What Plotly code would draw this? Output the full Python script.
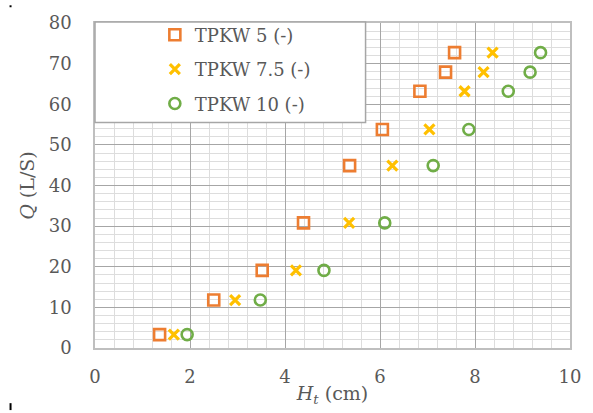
import plotly.graph_objects as go

# ---- data ----
q_values = [3.3, 11.8, 19.1, 30.8, 44.9, 53.8, 63.2, 67.9, 72.7]
ht_tpkw5 = [1.36, 2.50, 3.52, 4.39, 5.36, 6.05, 6.84, 7.38, 7.57]
ht_tpkw75 = [1.66, 2.95, 4.23, 5.35, 6.26, 7.04, 7.78, 8.18, 8.37]
ht_tpkw10 = [1.94, 3.48, 4.82, 6.10, 7.12, 7.87, 8.70, 9.16, 9.38]
series_names = ["TPKW 5 (-)", "TPKW 7.5 (-)", "TPKW 10 (-)"]
x_ticks = [0, 2, 4, 6, 8, 10]
y_ticks = [0, 10, 20, 30, 40, 50, 60, 70, 80]

FONT = "DejaVu Serif"
TXT = "#595959"

fig = go.Figure()
styles = [
    dict(symbol="square-open", color="#ED7D31", size=11, width=2.6),
    dict(symbol="x-thin-open", color="#FFC000", size=10, width=3.2),
    dict(symbol="circle-open", color="#70AD47", size=11, width=2.6),
]
for name, xs, st in zip(series_names, [ht_tpkw5, ht_tpkw75, ht_tpkw10], styles):
    fig.add_trace(go.Scatter(
        x=xs, y=q_values, mode="markers", name=name, legendgroup=name,
        marker=dict(symbol=st["symbol"], size=st["size"], color=st["color"],
                    line=dict(color=st["color"], width=st["width"])),
    ))

# legend box
fig.add_shape(type="rect", xref="paper", yref="paper",
              x0=0, x1=0.5696, y0=0.694, y1=1.003,
              fillcolor="white", line=dict(color="#A6A6A6", width=1.5), layer="above")
# small artefact marks at the image corners
fig.add_shape(type="line", xref="paper", yref="paper", x0=-0.1778, x1=-0.1778,
              y0=-0.1697, y1=-0.191, line=dict(color="black", width=2))
fig.add_shape(type="line", xref="paper", yref="paper", x0=-0.1778, x1=-0.1778,
              y0=1.0545, y1=1.0485, line=dict(color="black", width=2))

axis_common = dict(
    showline=True, mirror=True, linecolor="#BFBFBF", linewidth=1.5,
    showgrid=True, gridcolor="#A6A6A6", gridwidth=1,
    zeroline=False, ticks="",
    tickfont=dict(family=FONT, size=18, color=TXT),
)
fig.update_xaxes(range=[0, 10], tickvals=x_ticks, ticklabelstandoff=12,
                 minor=dict(dtick=0.4, showgrid=True, gridcolor="#DDDDDD", gridwidth=1),
                 title=dict(text="<i>H</i><sub><i>t</i></sub> (cm)", standoff=0,
                            font=dict(family=FONT, size=19, color=TXT)),
                 **axis_common)
fig.update_yaxes(range=[0, 80], tickvals=y_ticks, ticklabelstandoff=18,
                 minor=dict(dtick=2, showgrid=True, gridcolor="#DDDDDD", gridwidth=1),
                 title=dict(text="<i>Q</i> (L/S)", standoff=9,
                            font=dict(family=FONT, size=19, color=TXT)),
                 **axis_common)

fig.update_layout(
    width=593, height=413,
    margin=dict(l=95, r=17, t=18, b=65),
    plot_bgcolor="white", paper_bgcolor="white",
    font=dict(family=FONT, color=TXT),
    showlegend=True,
    legend=dict(x=0.126, y=1.02, xanchor="left", yanchor="top",
                bgcolor="rgba(0,0,0,0)", borderwidth=0,
                font=dict(family=FONT, size=18, color=TXT),
                tracegroupgap=8),
)

fig.write_html("out.html")
